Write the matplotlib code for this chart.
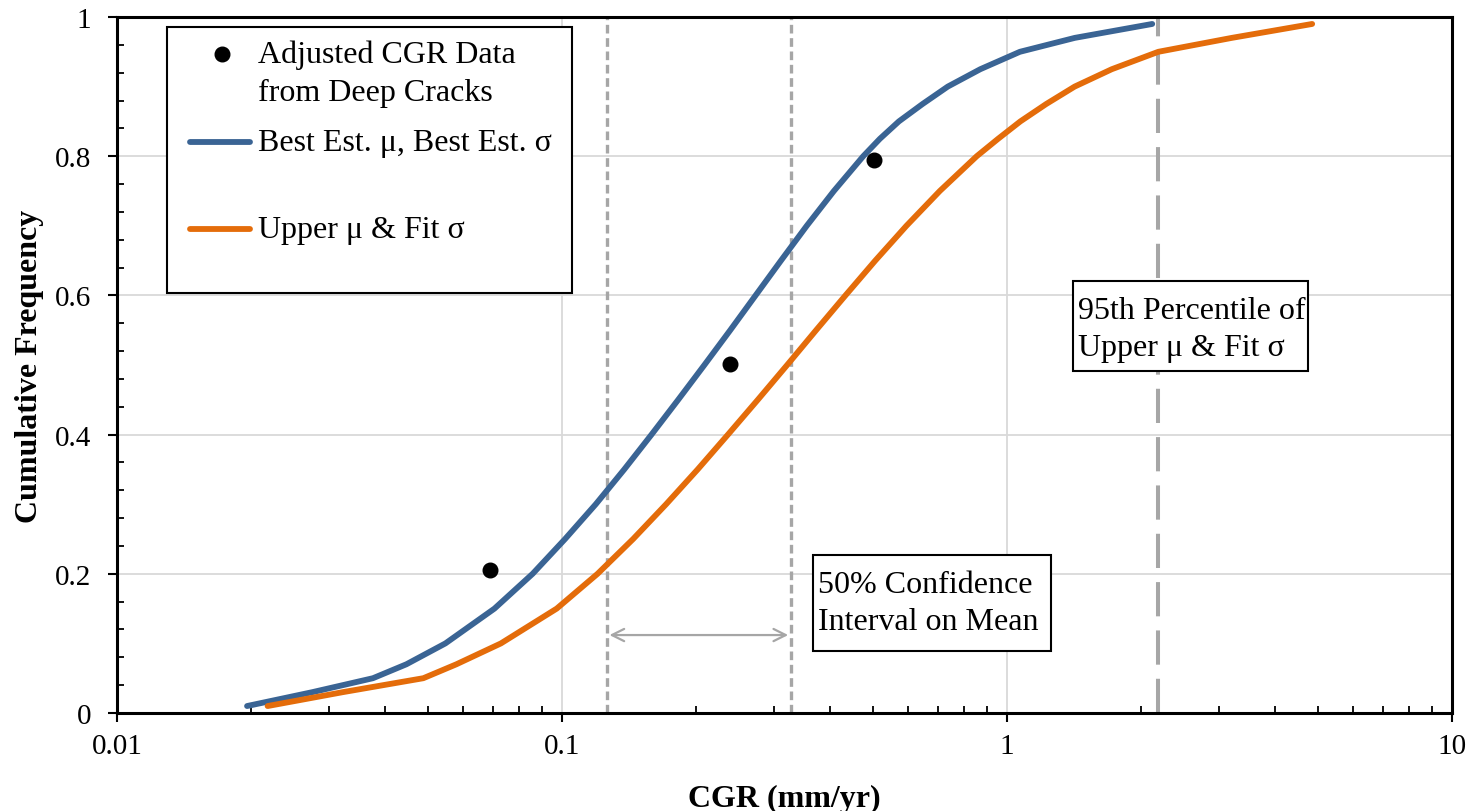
import matplotlib
matplotlib.use("Agg")
import matplotlib.pyplot as plt
from matplotlib.ticker import FixedLocator, NullFormatter, FixedFormatter
from matplotlib.lines import Line2D
from matplotlib.patches import Rectangle

plt.rcParams['font.family'] = ['Liberation Serif', 'DejaVu Serif']

# ---- data ----
data_x = [0.0689, 0.239, 0.502]
data_y = [0.2055, 0.501, 0.795]

blue_y = [0.01, 0.03, 0.05, 0.07, 0.10, 0.15, 0.20, 0.25, 0.30, 0.35, 0.40, 0.45, 0.50,
          0.55, 0.60, 0.65, 0.70, 0.75, 0.80, 0.825, 0.85, 0.875, 0.90, 0.925, 0.95, 0.97, 0.99]
blue_x = [0.0196, 0.0275, 0.0376, 0.0447, 0.0547, 0.0705, 0.0859, 0.1016, 0.1191, 0.1380,
          0.1589, 0.1824, 0.2089, 0.2388, 0.2723, 0.3105, 0.3548, 0.4083, 0.4753, 0.518,
          0.5715, 0.646, 0.736, 0.871, 1.069, 1.42, 2.12]

orange_y = [0.01, 0.03, 0.05, 0.07, 0.10, 0.15, 0.20, 0.25, 0.30, 0.35, 0.40, 0.45, 0.50,
            0.55, 0.60, 0.65, 0.70, 0.75, 0.80, 0.825, 0.85, 0.875, 0.90, 0.925, 0.95, 0.97, 0.99]
orange_x = [0.0218, 0.0322, 0.0488, 0.0579, 0.0729, 0.0973, 0.1202, 0.1445, 0.1714, 0.2018,
            0.2360, 0.2754, 0.3206, 0.3724, 0.4335, 0.5058, 0.5943, 0.7063, 0.8551, 0.955,
            1.0715, 1.225, 1.419, 1.72, 2.188, 3.2, 4.85]

ci_low, ci_high = 0.126, 0.327
p95_upper = 2.18
arrow_y = 0.112

x_ticks = [0.01, 0.1, 1, 10]
x_tick_labels = ['0.01', '0.1', '1', '10']
y_ticks = [0, 0.2, 0.4, 0.6, 0.8, 1.0]
y_tick_labels = ['0', '0.2', '0.4', '0.6', '0.8', '1']

legend_labels = ['Adjusted CGR Data\nfrom Deep Cracks', 'Best Est. μ, Best Est. σ', 'Upper μ & Fit σ']
note_ci = '50% Confidence\nInterval on Mean'
note_p95 = '95th Percentile of\nUpper μ & Fit σ'

BLUE = '#3A6494'
ORANGE = '#E46C0A'
GRAY = '#A6A6A6'

fig = plt.figure(figsize=(14.73, 8.12), dpi=100)
ax = fig.add_axes([117/1473, 1-714/812, (1452-117)/1473, (714-18)/812])

ax.set_xscale('log')
ax.set_xlim(0.01, 10)
ax.set_ylim(0, 1)

ax.grid(True, which='major', color='#D9D9D9', linewidth=1.3, zorder=0)
ax.set_axisbelow(True)

# reference lines
ax.axvline(ci_low, color=GRAY, lw=2.4, dashes=(2.6, 1.4), zorder=2)
ax.axvline(ci_high, color=GRAY, lw=2.4, dashes=(2.6, 1.4), zorder=2)
ax.axvline(p95_upper, color=GRAY, lw=2.9, dashes=(8.5, 3.5), zorder=2)

ax.annotate('', xy=(ci_low, arrow_y), xytext=(ci_high, arrow_y),
            arrowprops=dict(arrowstyle='<->', color=GRAY, lw=1.6,
                            mutation_scale=22, shrinkA=2, shrinkB=2), zorder=3)

ax.plot(blue_x, blue_y, color=BLUE, lw=4.2, solid_capstyle='round', solid_joinstyle='round', zorder=4)
ax.plot(orange_x, orange_y, color=ORANGE, lw=4.2, solid_capstyle='round', solid_joinstyle='round', zorder=4)
ax.plot(data_x, data_y, 'o', color='black', ms=10.5, zorder=5)

# ticks
ax.xaxis.set_major_locator(FixedLocator(x_ticks))
ax.xaxis.set_major_formatter(FixedFormatter(x_tick_labels))
minors = [m * 10.0**e for e in (-2, -1, 0) for m in range(2, 10)]
ax.xaxis.set_minor_locator(FixedLocator(minors))
ax.xaxis.set_minor_formatter(NullFormatter())
ax.yaxis.set_major_locator(FixedLocator(y_ticks))
ax.yaxis.set_major_formatter(FixedFormatter(y_tick_labels))
ax.yaxis.set_minor_locator(FixedLocator([i * 0.04 for i in range(26)]))

ax.tick_params(which='major', direction='out', length=6.5, width=1.5, labelsize=21, pad=8, colors='black')
ax.tick_params(which='minor', direction='in', length=5, width=1.3)
ax.tick_params(axis='y', which='major', pad=12)
for s in ax.spines.values():
    s.set_linewidth(2.2)
    s.set_color('black')

ax.set_xlabel('CGR (mm/yr)', fontsize=23, fontweight='bold', labelpad=18)
ax.set_ylabel('Cumulative Frequency', fontsize=23, fontweight='bold', labelpad=8)

T = ax.transAxes

# text boxes
ax.add_patch(Rectangle((0.5213, 0.0891), 0.6996 - 0.5213, 0.2270 - 0.0891, transform=T,
                       facecolor='white', edgecolor='black', linewidth=1.5, zorder=6))
ax.text(0.5251, 0.158, note_ci, transform=T, fontsize=23, ha='left', va='center',
        zorder=7, linespacing=1.35)
ax.add_patch(Rectangle((0.7161, 0.4914), 0.8921 - 0.7161, 0.6207 - 0.4914, transform=T,
                       facecolor='white', edgecolor='black', linewidth=1.5, zorder=6))
ax.text(0.7199, 0.5517, note_p95, transform=T, fontsize=23, ha='left', va='center',
        zorder=7, linespacing=1.4)

# legend (drawn manually to match layout)
ax.add_patch(Rectangle((0.0375, 0.6034), 0.341 - 0.0375, 0.9856 - 0.6034, transform=T,
                       facecolor='white', edgecolor='black', linewidth=1.5, zorder=7))
ax.add_line(Line2D([0.0787], [0.9468], marker='o', color='black', ms=10.5, transform=T, zorder=8))
ax.add_line(Line2D([0.0547, 0.0996], [0.8204, 0.8204], color=BLUE, lw=4.2,
                   solid_capstyle='round', transform=T, zorder=8))
ax.add_line(Line2D([0.0547, 0.0996], [0.6954, 0.6954], color=ORANGE, lw=4.2,
                   solid_capstyle='round', transform=T, zorder=8))
ax.text(0.1056, 0.9195, legend_labels[0], transform=T, fontsize=23, va='center', ha='left',
        zorder=9, linespacing=1.4)
ax.text(0.1056, 0.8204, legend_labels[1], transform=T, fontsize=23, va='center', ha='left', zorder=9)
ax.text(0.1056, 0.6954, legend_labels[2], transform=T, fontsize=23, va='center', ha='left', zorder=9)

fig.savefig('out.png', dpi=100)
